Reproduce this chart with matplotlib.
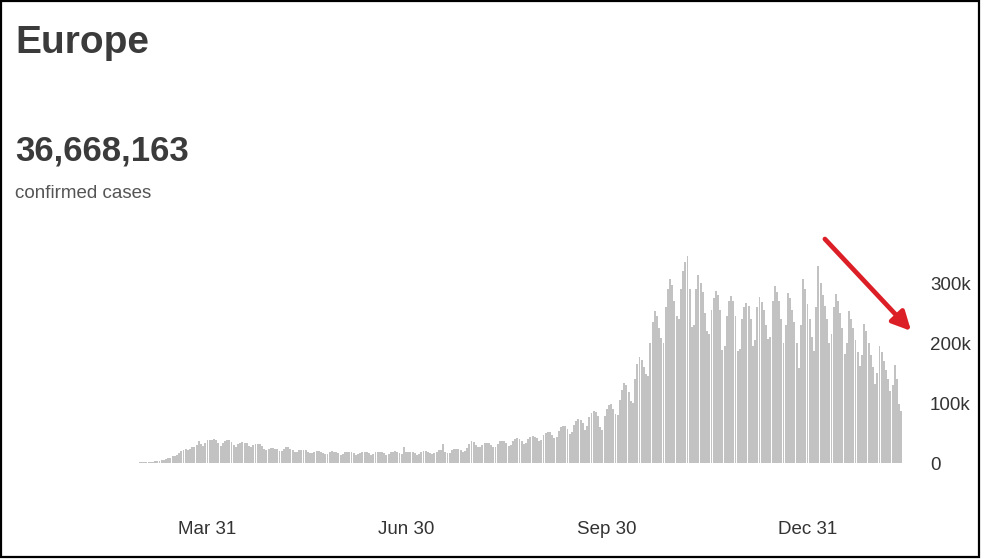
import matplotlib

matplotlib.use('Agg')
import matplotlib.dates as mdates
import matplotlib.pyplot as plt
import numpy as np
import pandas as pd
from matplotlib.patches import Rectangle

# daily new confirmed cases in Europe, thousands, one row per week (Mon..Sun)
start_date = '2020-02-17'
cases_k = [
    0, 0, 0, 0, 0, 0, 0.6,
    0.1, 0.1, 0.5, 0.2, 0.8, 0.9, 1.0,
    1.2, 1.5, 1.8, 2.0, 2.3, 2.6, 3.0,
    3.5, 4.5, 5.5, 7, 8, 9, 11,
    12, 13, 16, 20, 22, 23, 22,
    23, 26, 27, 30, 37, 32, 29,
    33, 38, 39, 39, 40, 38, 33,
    28, 33, 37, 39, 38, 35, 30,
    27, 32, 34, 35, 34, 33, 28,
    26, 30, 31, 32, 31, 29, 24,
    22, 24, 25, 25, 24, 23, 20,
    20, 24, 27, 26, 24, 22, 19,
    18, 21, 22, 22, 21, 19, 16,
    16, 19, 20, 20, 19, 17, 15,
    15, 18, 20, 19, 19, 17, 14,
    15, 18, 19, 19, 18, 17, 14,
    15, 17, 18, 19, 18, 16, 14,
    15, 18, 19, 19, 18, 17, 14,
    15, 18, 19, 20, 19, 17, 15,
    26, 18, 19, 19, 19, 17, 14,
    15, 18, 20, 20, 19, 17, 15,
    16, 19, 21, 21, 32, 19, 16,
    17, 21, 23, 24, 23, 21, 18,
    20, 25, 31, 36, 35, 30, 26,
    27, 30, 33, 34, 33, 30, 27,
    27, 32, 36, 37, 36, 33, 28,
    30, 36, 40, 41, 40, 37, 31,
    33, 40, 44, 45, 44, 41, 36,
    38, 46, 50, 52, 51, 47, 41,
    44, 54, 60, 62, 61, 56, 49,
    52, 64, 70, 73, 72, 66, 55,
    61, 76, 83, 86, 85, 78, 60,
    55, 78, 90, 96, 98, 90, 81,
    80, 105, 122, 134, 130, 118, 103,
    100, 140, 165, 177, 172, 160, 148,
    145, 200, 235, 253, 245, 225, 209,
    200, 260, 290, 306, 296, 270, 245,
    240, 290, 320, 335, 345, 290, 226,
    230, 290, 314, 300, 285, 250, 220,
    215, 255, 275, 287, 280, 255, 189,
    195, 245, 270, 278, 270, 245, 187,
    190, 240, 260, 267, 262, 240, 195,
    205, 260, 276, 268, 255, 230, 206,
    210, 270, 295, 285, 270, 240, 200,
    230, 284, 275, 255, 235, 200, 159,
    230, 306, 290, 265, 240, 210, 187,
    260, 328, 300, 280, 262, 240, 200,
    215, 260, 281, 270, 250, 225, 181,
    200, 253, 240, 225, 205, 185, 162,
    180, 231, 220, 200, 180, 160, 131,
    150, 195, 185, 170, 155, 140, 120,
    130, 164, 140, 98, 87,
]

tick_dates = ['2020-03-31', '2020-06-30', '2020-09-30', '2020-12-31']
tick_labels = ['Mar 31', 'Jun 30', 'Sep 30', 'Dec 31']
ytick_values = [0, 100_000, 200_000, 300_000]
ytick_labels = ['0', '100k', '200k', '300k']

region = 'Europe'
total_cases = '36,668,163'
total_label = 'confirmed cases'

W, H = 981, 559
plt.rcParams['font.family'] = ['Liberation Sans Narrow', 'Liberation Sans', 'DejaVu Sans']

fig = plt.figure(figsize=(W / 100, H / 100), dpi=100)
fig.patch.set_facecolor('white')


def fx(px):
    return px / W


def fy(py):
    return 1 - py / H


# plot area: left 110px, right 912px, top 223px, bottom 463px
ax = fig.add_axes([fx(110), fy(463), fx(912 - 110), (463 - 223) / H])

days = mdates.date2num(pd.date_range(start_date, periods=len(cases_k), freq='D'))
values = np.array(cases_k) * 1000
ax.bar(days, values, width=0.88, color='#c2c2c2', linewidth=0)

d0 = mdates.date2num(pd.Timestamp(start_date))
ax.set_xlim(d0 - 1.7, d0 + 365.9)
ax.set_ylim(0, 400_000)

ax.set_xticks(mdates.date2num(pd.to_datetime(tick_dates)))
ax.set_xticklabels(tick_labels)
ax.set_yticks(ytick_values)
ax.set_yticklabels(ytick_labels)
ax.yaxis.tick_right()
ax.tick_params(axis='x', length=0, pad=42, labelsize=13.5, labelcolor='#333333')
ax.tick_params(axis='y', length=0, pad=13, labelsize=13.5, labelcolor='#333333')
for side in ax.spines.values():
    side.set_visible(False)

fig.text(fx(15), fy(53), region, fontsize=28, fontweight='bold', color='#3b3b3b',
         va='baseline', ha='left')
fig.text(fx(15), fy(160), total_cases, fontsize=25, fontweight='bold', color='#3b3b3b',
         va='baseline', ha='left')
fig.text(fx(15), fy(198), total_label, fontsize=13.5, color='#555555',
         va='baseline', ha='left')

# red arrow pointing at the falling tail
fig.add_artist(matplotlib.patches.FancyArrowPatch(
    (823, H - 237), (913, H - 333), transform=None,
    arrowstyle='-|>', mutation_scale=28, color='#dc1f26', lw=3.4,
))

# frame round the screenshot
fig.add_artist(Rectangle((fx(1), fy(557)), fx(978), (556) / H, transform=fig.transFigure,
                         fill=False, edgecolor='black', linewidth=1.6))

fig.savefig('out.png', dpi=100, facecolor='white')
